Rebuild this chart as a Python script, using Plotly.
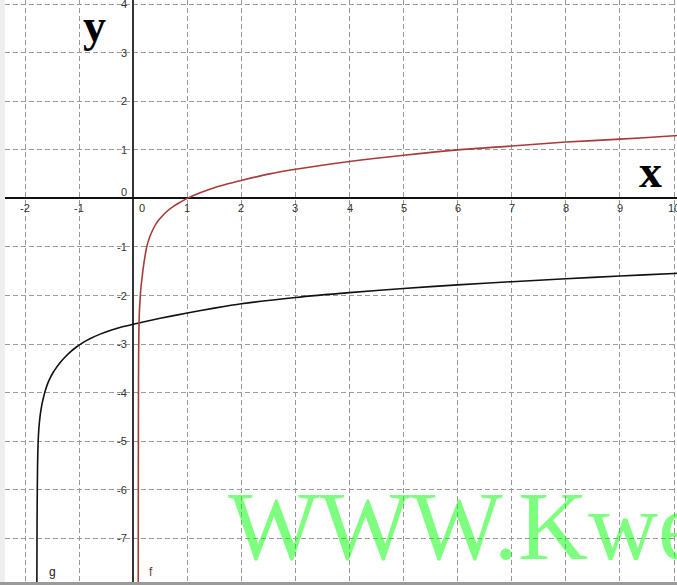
import plotly.graph_objects as go

# ---- data ----
f_x = [0.093, 0.095, 0.097, 0.100, 0.105, 0.112, 0.125, 0.140, 0.160, 0.180, 0.200, 0.225,
       0.250, 0.280, 0.310, 0.370, 0.430, 0.500, 0.600, 0.750, 0.870, 1.0, 1.25, 1.5, 1.75,
       2.0, 2.5, 3.0, 4.0, 5.0, 6.0, 7.0, 8.0, 9.0, 10.0, 10.1]
f_y = [-7.95, -5.50, -4.20, -3.30, -2.75, -2.40, -2.12, -1.88, -1.67, -1.48, -1.32, -1.15,
       -1.00, -0.88, -0.78, -0.63, -0.51, -0.41, -0.29, -0.16, -0.08, 0.0, 0.12, 0.22, 0.30,
       0.37, 0.50, 0.60, 0.76, 0.89, 1.00, 1.08, 1.16, 1.22, 1.29, 1.30]

g_x = [-1.781, -1.779, -1.776, -1.773, -1.769, -1.764, -1.757, -1.748, -1.735, -1.720,
       -1.700, -1.680, -1.650, -1.620, -1.580, -1.530, -1.480, -1.430, -1.350, -1.250,
       -1.150, -1.050, -1.000, -0.900, -0.800, -0.600, -0.400, -0.200, 0.0, 0.5, 1.0, 1.5,
       2.0, 3.0, 4.0, 5.0, 6.0, 7.0, 8.0, 9.0, 10.0, 10.1]
g_y = [-7.95, -7.00, -6.40, -5.95, -5.55, -5.25, -5.00, -4.80, -4.62, -4.47,
       -4.32, -4.20, -4.06, -3.94, -3.81, -3.685, -3.585, -3.50, -3.38, -3.255,
       -3.15, -3.06, -3.02, -2.95, -2.89, -2.79, -2.71, -2.645, -2.59, -2.47, -2.36, -2.26,
       -2.17, -2.04, -1.94, -1.855, -1.78, -1.715, -1.655, -1.598, -1.545, -1.54]

x_ticks = [-2, -1, 0, 1, 2, 3, 4, 5, 6, 7, 8, 9, 10]
y_ticks = [4, 3, 2, 1, 0, -1, -2, -3, -4, -5, -6, -7]

# pixel -> data mapping helpers (for text placement)
X0, SX = 133.2, 54.08
Y0, SY = 198.4, 48.56
def dx(p):
    return (p - X0) / SX
def dy(p):
    return (Y0 - p) / SY

fig = go.Figure()
fig.add_trace(go.Scatter(x=g_x, y=g_y, mode="lines",
                         line=dict(color="#111111", width=1.6, shape="spline", smoothing=0.8),
                         hoverinfo="skip", showlegend=False))
fig.add_trace(go.Scatter(x=f_x, y=f_y, mode="lines",
                         line=dict(color="#a83a3a", width=1.6, shape="spline", smoothing=0.8),
                         hoverinfo="skip", showlegend=False))

ann = []
tick_font = dict(family="Liberation Sans, Arial, sans-serif", size=11, color="#333333")
for v in x_ticks:
    xv = dx(141.7) if v == 0 else v
    ann.append(dict(x=xv, y=0, text=str(v), showarrow=False, xanchor="center",
                    yanchor="top", yshift=-2, font=tick_font))
for v in y_ticks:
    yv = dy(192) if v == 0 else v
    ann.append(dict(x=0, y=yv, text=str(v), showarrow=False, xanchor="right",
                    yanchor="middle", xshift=-4, font=tick_font))

ax_font = dict(family="Liberation Serif, Times New Roman, serif", size=46, color="#000000")
ann.append(dict(x=dx(94.5), y=dy(25), text="<b>y</b>", showarrow=False,
                xanchor="center", yanchor="middle", font=ax_font))
ann.append(dict(x=dx(650), y=dy(171), text="<b>x</b>", showarrow=False,
                xanchor="center", yanchor="middle", font=ax_font))

lab_font = dict(family="Liberation Sans, Arial, sans-serif", size=12, color="#222222")
ann.append(dict(x=dx(52), y=dy(572), text="g", showarrow=False, xanchor="center",
                yanchor="middle", font=lab_font))
ann.append(dict(x=dx(151), y=dy(572), text="f", showarrow=False, xanchor="center",
                yanchor="middle", font=dict(family="Liberation Sans, Arial, sans-serif",
                                            size=12, color="#6a3a3a")))

ann.append(dict(x=dx(226), y=dy(526), text="WWW.Kwe", showarrow=False,
                xanchor="left", yanchor="middle",
                font=dict(family="Liberation Serif, Times New Roman, serif", size=97,
                          color="rgba(0,255,0,0.5)")))

fig.update_layout(
    width=677, height=585,
    margin=dict(l=5, r=0, t=0, b=3),
    paper_bgcolor="#eeeeee",
    plot_bgcolor="#ffffff",
    showlegend=False,
    annotations=ann,
    shapes=[dict(type="rect", xref="paper", yref="paper", x0=-0.01, x1=1.0,
                 y0=-3/582, y1=0, fillcolor="#9a9a9a", line=dict(width=0), layer="above")],
)
fig.update_xaxes(range=[dx(5), dx(677)], dtick=1, tick0=0, showgrid=True,
                 gridcolor="#9a9a9a", gridwidth=1, griddash="5px,3px",
                 zeroline=True, zerolinecolor="#333333", zerolinewidth=1.5,
                 showticklabels=False, ticks="", showline=False, fixedrange=True)
fig.update_yaxes(range=[dy(582), dy(0)], dtick=1, tick0=0, showgrid=True,
                 gridcolor="#9a9a9a", gridwidth=1, griddash="5px,3px",
                 zeroline=True, zerolinecolor="#111111", zerolinewidth=1.5,
                 showticklabels=False, ticks="", showline=False, fixedrange=True)

fig.write_html("out.html", config={"displayModeBar": False},
               post_script="document.body.style.margin='0';")
